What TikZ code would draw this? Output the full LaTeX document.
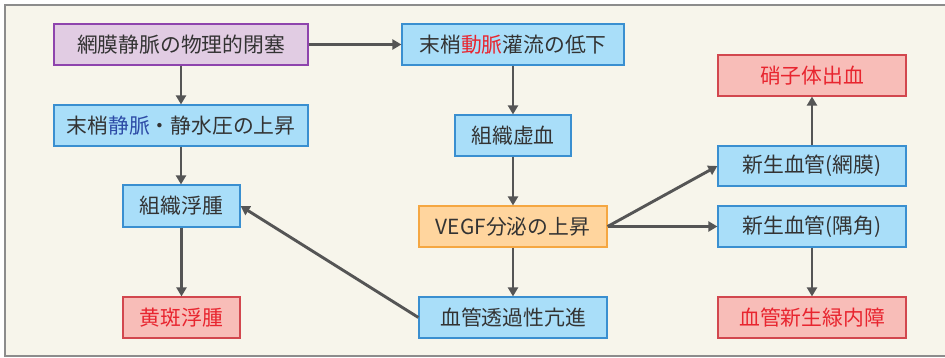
\documentclass[tikz,border=0pt]{standalone}
\usepackage{fontspec}
\setmainfont{Noto Sans CJK JP}
\usetikzlibrary{arrows.meta}
\definecolor{bgc}{HTML}{F7F5EB}
\definecolor{framec}{HTML}{8C8C8C}
\definecolor{txt}{HTML}{333333}
\definecolor{bluefill}{HTML}{A9DEF9}
\definecolor{blueline}{HTML}{3A8FD0}
\definecolor{redfill}{HTML}{F8BDB8}
\definecolor{redline}{HTML}{D2474E}
\definecolor{redtxt}{HTML}{E8252F}
\definecolor{purfill}{HTML}{E1CCE3}
\definecolor{purline}{HTML}{8E44AD}
\definecolor{orfill}{HTML}{FFD59E}
\definecolor{orline}{HTML}{F5A742}
\definecolor{arrc}{HTML}{555555}
\definecolor{bluetxt}{HTML}{2D4BA6}
\tikzset{
  box/.style={draw, line width=1.2pt, inner sep=0pt, font=\fontsize{20.8}{24}\selectfont, text=txt},
  bluebox/.style={box, fill=bluefill, draw=blueline},
  redbox/.style={box, fill=redfill, draw=redline, text=redtxt},
  purbox/.style={box, fill=purfill, draw=purline},
  orbox/.style={box, fill=orfill, draw=orline},
  conn/.style={draw=arrc, line width=2.9pt, -{Triangle[length=9pt,width=10pt]}}
}
\begin{document}
\begin{tikzpicture}[x=1pt,y=-1pt]
\useasboundingbox (0,0) rectangle (945,358);
\begin{scope}
\clip (0,0) rectangle (945,358);
\fill[white] (0,0) rectangle (945,358);
\draw[framec, line width=2pt, fill=bgc] (5,5) rectangle (955,356);
\end{scope}
\node[purbox, minimum width=254pt, minimum height=41pt] (a) at (181,44.5) {網膜静脈の物理的閉塞};
\node[bluebox, minimum width=254pt, minimum height=41pt] (b) at (181,125.5) {末梢\textcolor{bluetxt}{静脈}・静水圧の上昇};
\node[bluebox, minimum width=117pt, minimum height=42pt] (c) at (181.5,206) {組織浮腫};
\node[redbox, minimum width=117pt, minimum height=41pt] (d) at (181.5,317.5) {黄斑浮腫};
\node[bluebox, minimum width=222pt, minimum height=41pt] (e) at (513,44.5) {末梢\textcolor{redtxt}{動脈}灌流の低下};
\node[bluebox, minimum width=116pt, minimum height=41pt] (f) at (513,135.5) {組織虚血};
\node[orbox, minimum width=188pt, minimum height=41pt] (g) at (513,226.5) {VEGF分泌の上昇};
\node[bluebox, minimum width=188pt, minimum height=41pt] (h) at (513,317.5) {血管透過性亢進};
\node[redbox, minimum width=188pt, minimum height=41pt] (i) at (812,75.5) {硝子体出血};
\node[bluebox, minimum width=188pt, minimum height=40pt] (j) at (812,166) {新生血管(網膜)};
\node[bluebox, minimum width=188pt, minimum height=41pt] (k) at (812,226.5) {新生血管(隅角)};
\node[redbox, minimum width=188pt, minimum height=41pt] (l) at (812,317.5) {血管新生緑内障};
\draw[conn] (a) -- (e);
\draw[conn] (a) -- (b);
\draw[conn] (b) -- (b |- c.north);
\draw[conn] (c) -- (c |- d.north);
\draw[conn] (e) -- (f);
\draw[conn] (f) -- (g);
\draw[conn] (g) -- (h);
\draw[conn] (h.west) -- (c.east);
\draw[conn] (g.east) -- (j.west);
\draw[conn] (g.east) -- (k.west);
\draw[conn] (j) -- (i);
\draw[conn] (k) -- (l);
\end{tikzpicture}
\end{document}
